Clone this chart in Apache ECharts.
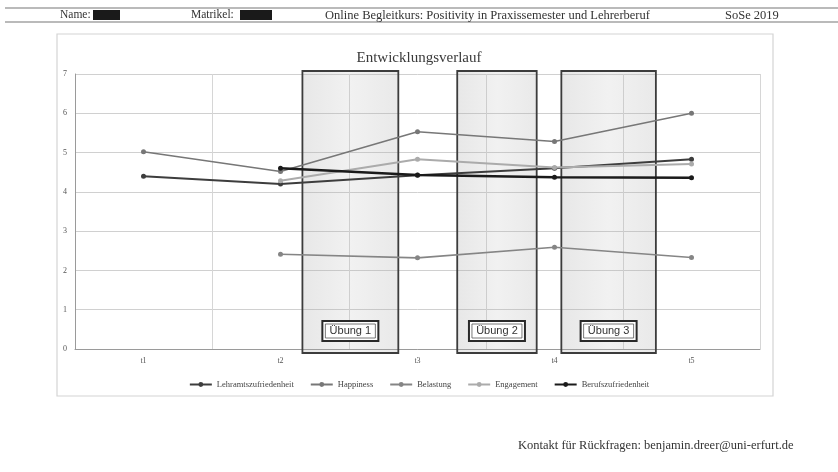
<!DOCTYPE html>
<html>
<head>
<meta charset="utf-8">
<script src="https://cdn.jsdelivr.net/npm/echarts@6/dist/echarts.min.js"></script>
<style>
  html, body { margin: 0; padding: 0; background: #ffffff; }
  #chart { width: 838px; height: 472px; }
</style>
</head>
<body>
<div id="chart"></div>
<script>
// Messzeitpunkte
const categories = ['t1', 't2', 't3', 't4', 't5'];

// Skalenmittelwerte je Messzeitpunkt
const lehramtszufriedenheit = [4.40, 4.20, 4.42, 4.60, 4.83];
const happiness = [5.02, 4.52, 5.53, 5.28, 6.00];
const belastung = [null, 2.41, 2.32, 2.59, 2.33];
const engagement = [null, 4.28, 4.83, 4.62, 4.71];
const berufszufriedenheit = [null, 4.60, 4.43, 4.37, 4.36];

const seriesNames = ['Lehramtszufriedenheit', 'Happiness', 'Belastung', 'Engagement', 'Berufszufriedenheit'];

// Übungsphasen auf einer durchgehenden Zeitachse (0 = linker Rand, 5 = rechter Rand)
const uebungStart = [1.66, 2.79, 3.55];
const uebungEnde = [2.36, 3.37, 4.24];
const uebungLabels = ['Übung 1', 'Übung 2', 'Übung 3'];

const yTicks = [0, 1, 2, 3, 4, 5, 6, 7];

const serif = '"Liberation Serif", "DejaVu Serif", serif';
const sans = '"Liberation Sans", Arial, sans-serif';

const chart = echarts.init(document.getElementById('chart'));

function lineSeries(name, data, color, width) {
  return {
    name: name,
    type: 'line',
    data: data,
    xAxisIndex: 0,
    yAxisIndex: 0,
    symbol: 'circle',
    symbolSize: 5,
    z: 5,
    lineStyle: { color: color, width: width },
    itemStyle: { color: color }
  };
}

const uebungData = uebungStart.map((s, i) => [s, uebungEnde[i], uebungLabels[i]]);

const option = {
  backgroundColor: '#ffffff',
  animation: false,
  title: {
    text: 'Entwicklungsverlauf',
    left: 'center',
    top: 46,
    textStyle: { fontFamily: serif, fontSize: 15, fontWeight: 'normal', color: '#3a3a3a' }
  },
  legend: {
    data: seriesNames,
    left: 'center',
    top: 375,
    itemWidth: 22,
    itemHeight: 6,
    itemGap: 16,
    textStyle: { fontFamily: serif, fontSize: 8.5, color: '#444' }
  },
  grid: { left: 75, right: 78, top: 74, bottom: 123 },
  xAxis: [
    {
      type: 'category',
      data: categories,
      boundaryGap: true,
      axisLine: { lineStyle: { color: '#9a9a9a' } },
      axisTick: { show: false },
      splitLine: { show: true, lineStyle: { color: '#d6d6d6' } },
      axisLabel: { fontFamily: serif, fontSize: 8, color: '#555', margin: 8 }
    },
    {
      type: 'value',
      min: 0,
      max: 5,
      show: false
    }
  ],
  yAxis: {
    type: 'value',
    min: yTicks[0],
    max: yTicks[yTicks.length - 1],
    interval: 1,
    axisLine: { show: true, lineStyle: { color: '#9a9a9a' } },
    axisTick: { show: false },
    splitLine: { lineStyle: { color: '#d0d0d0' } },
    axisLabel: { fontFamily: serif, fontSize: 8, color: '#555', margin: 8 }
  },
  series: [
    {
      name: 'Übungen',
      type: 'custom',
      xAxisIndex: 1,
      yAxisIndex: 0,
      z: 2,
      silent: true,
      clip: false,
      data: uebungData,
      renderItem: function (params, api) {
        const p0 = api.coord([api.value(0), 7]);
        const p1 = api.coord([api.value(1), 0]);
        const x = p0[0];
        const w = p1[0] - p0[0];
        const top = p0[1] - 3;
        const bottom = p1[1] + 4;
        const cx = x + w / 2;
        const lw = 56, lh = 20;
        const ly = bottom - 32;
        return {
          type: 'group',
          children: [
            {
              type: 'rect',
              shape: { x: x, y: top, width: w, height: bottom - top },
              style: {
                fill: new echarts.graphic.LinearGradient(0, 0, 1, 0, [
                  { offset: 0, color: 'rgba(170,170,170,0.28)' },
                  { offset: 0.5, color: 'rgba(170,170,170,0.16)' },
                  { offset: 1, color: 'rgba(170,170,170,0.26)' }
                ]),
                stroke: '#3c3c3c',
                lineWidth: 1.8
              }
            },
            {
              type: 'rect',
              shape: { x: cx - lw / 2, y: ly, width: lw, height: lh },
              style: { fill: '#ffffff', stroke: '#2a2a2a', lineWidth: 2 }
            },
            {
              type: 'rect',
              shape: { x: cx - lw / 2 + 3, y: ly + 3, width: lw - 6, height: lh - 6 },
              style: { fill: 'none', stroke: '#555', lineWidth: 0.8 }
            },
            {
              type: 'text',
              style: {
                x: cx,
                y: ly + lh / 2,
                text: api.value(2),
                align: 'center',
                verticalAlign: 'middle',
                fontFamily: sans,
                fontSize: 11,
                fill: '#333'
              }
            }
          ]
        };
      }
    },
    lineSeries(seriesNames[0], lehramtszufriedenheit, '#3d3d3d', 2),
    lineSeries(seriesNames[1], happiness, '#777777', 1.6),
    lineSeries(seriesNames[2], belastung, '#858585', 1.6),
    lineSeries(seriesNames[3], engagement, '#ababab', 2),
    lineSeries(seriesNames[4], berufszufriedenheit, '#1a1a1a', 2.4)
  ],
  graphic: [
    // Kopfzeile
    { type: 'line', shape: { x1: 5, y1: 8, x2: 838, y2: 8 }, style: { stroke: '#777', lineWidth: 1.2 } },
    { type: 'line', shape: { x1: 5, y1: 22, x2: 838, y2: 22 }, style: { stroke: '#777', lineWidth: 1.2 } },
    { type: 'text', left: 60, top: 9, style: { text: 'Name:', fontFamily: serif, fontSize: 11.5, fill: '#333' } },
    { type: 'rect', shape: { x: 93, y: 10, width: 27, height: 10 }, style: { fill: '#1a1a1a' } },
    { type: 'text', left: 191, top: 9, style: { text: 'Matrikel:', fontFamily: serif, fontSize: 11.5, fill: '#333' } },
    { type: 'rect', shape: { x: 240, y: 10, width: 32, height: 10 }, style: { fill: '#1a1a1a' } },
    { type: 'text', left: 325, top: 9, style: { text: 'Online Begleitkurs: Positivity in Praxissemester und Lehrerberuf', fontFamily: serif, fontSize: 12.5, fill: '#333' } },
    { type: 'text', left: 725, top: 9, style: { text: 'SoSe 2019', fontFamily: serif, fontSize: 12.5, fill: '#333' } },
    // Diagrammrahmen
    { type: 'rect', shape: { x: 57, y: 34, width: 716, height: 362 }, style: { fill: 'none', stroke: '#d4d4d4', lineWidth: 1.2 }, z: -1 },
    // Fußzeile
    { type: 'text', left: 518, top: 439, style: { text: 'Kontakt für Rückfragen: benjamin.dreer@uni-erfurt.de', fontFamily: serif, fontSize: 12.5, fill: '#333' } }
  ]
};

chart.setOption(option);
</script>
</body>
</html>
